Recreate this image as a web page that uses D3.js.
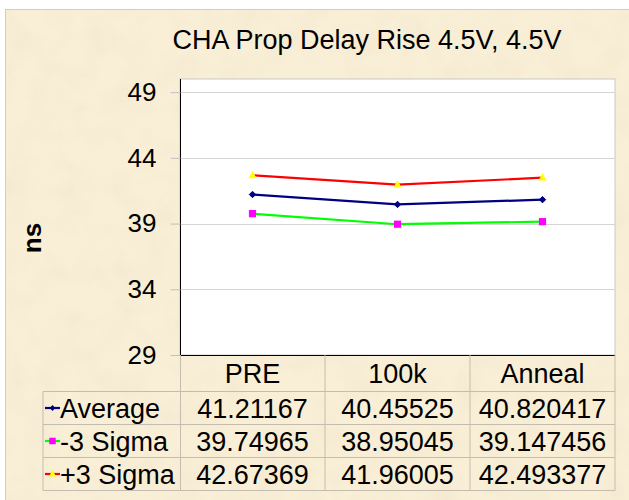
<!DOCTYPE html>
<html>
<head>
<meta charset="utf-8">
<script src="https://cdn.jsdelivr.net/npm/d3@7"></script>
<style>
    html, body { margin: 0; padding: 0; background: #fff; }
    svg { display: block; font-family: "Liberation Sans", Arial, sans-serif; }
</style>
</head>
<body>
<div class="delay-chart"></div>
<script>
const categories = ["PRE", "100k", "Anneal"];
const average = [41.21167, 40.45525, 40.820417];
const minus3Sigma = [39.74965, 38.95045, 39.147456];
const plus3Sigma = [42.67369, 41.96005, 42.493377];
const yTicks = [29, 34, 39, 44, 49];

const width = 629, height = 500;
const plot = {left: 180, right: 615, top: 79, bottom: 355};
const rowTop = 391.5, rowH = 33, tableLeft = 43;

const series = [
    {name: "Average", values: average, line: "#000080", fill: "#000080", marker: "diamond"},
    {name: "-3 Sigma", values: minus3Sigma, line: "#00FF00", fill: "#FF00FF", marker: "square"},
    {name: "+3 Sigma", values: plus3Sigma, line: "#FF0000", fill: "#FFFF00", marker: "triangle"}
];

const x = d3.scaleBand()
    .domain(categories)
    .range([plot.left, plot.right]);

const y = d3.scaleLinear()
    .domain([29, 50])
    .range([plot.bottom, plot.top]);

const svg = d3.select(".delay-chart").append("svg")
    .attr("width", width)
    .attr("height", height);

// parchment texture
const defs = svg.append("defs");
const filter = defs.append("filter").attr("id", "paper")
    .attr("x", 0).attr("y", 0).attr("width", "100%").attr("height", "100%");
filter.append("feTurbulence")
    .attr("type", "fractalNoise")
    .attr("baseFrequency", 0.035)
    .attr("numOctaves", 4)
    .attr("seed", 3);
filter.append("feColorMatrix")
    .attr("type", "matrix")
    .attr("values", "0 0 0 0 0.80  0 0 0 0 0.70  0 0 0 0 0.50  1.2 0 0 0 -0.45");
filter.append("feComposite").attr("in2", "SourceGraphic").attr("operator", "in");

svg.append("rect")
    .attr("x", 5.5).attr("y", 9.5)
    .attr("width", width).attr("height", height)
    .attr("fill", "#F9EFD7")
    .attr("stroke", "#D9CCB0");
svg.append("rect")
    .attr("x", 6).attr("y", 10)
    .attr("width", width).attr("height", height)
    .attr("fill", "#F9EFD7")
    .attr("filter", "url(#paper)")
    .attr("opacity", 0.35);

svg.append("text")
    .attr("x", 367)
    .attr("y", 49)
    .attr("text-anchor", "middle")
    .attr("font-size", 27)
    .attr("fill", "#000")
    .text("CHA Prop Delay Rise 4.5V, 4.5V");

// plot area
svg.append("rect")
    .attr("x", plot.left).attr("y", plot.top)
    .attr("width", plot.right - plot.left)
    .attr("height", plot.bottom - plot.top)
    .attr("fill", "#fff")
    .attr("stroke", "#C8C8C8");

svg.append("g")
    .selectAll("line")
    .data(yTicks.slice(1))
    .join("line")
    .attr("x1", plot.left).attr("x2", plot.right)
    .attr("y1", d => Math.round(y(d)) + 0.5)
    .attr("y2", d => Math.round(y(d)) + 0.5)
    .attr("stroke", "#D4D4D4");

const yAxis = g => g
    .attr("transform", `translate(${plot.left + 0.5},0)`)
    .call(d3.axisLeft(y).tickValues(yTicks).tickSize(10).tickPadding(14))
    .call(g => g.select(".domain").attr("stroke", "#000").attr("d", `M0,${plot.top}V${plot.bottom}`))
    .call(g => g.selectAll(".tick line").attr("stroke", "#C0C0C0"))
    .call(g => g.selectAll(".tick text")
        .attr("font-size", 26)
        .attr("font-family", "Liberation Sans, Arial, sans-serif")
        .attr("fill", "#000"));

svg.append("g").call(yAxis);

svg.append("line")
    .attr("x1", plot.left).attr("x2", plot.right)
    .attr("y1", plot.bottom + 0.5).attr("y2", plot.bottom + 0.5)
    .attr("stroke", "#000");

svg.append("text")
    .attr("transform", `translate(41,238) rotate(-90)`)
    .attr("text-anchor", "middle")
    .attr("font-size", 26)
    .attr("font-weight", "bold")
    .text("ns");

const line = d3.line()
    .x((d, i) => x(categories[i]) + x.bandwidth() / 2)
    .y(d => y(d));

const markerPath = (type, cx, cy, s) => {
    if (type === "square") return `M${cx - s},${cy - s}h${2 * s}v${2 * s}h${-2 * s}Z`;
    if (type === "triangle") return `M${cx},${cy - s * 1.2}L${cx + s * 1.1},${cy + s * 0.8}L${cx - s * 1.1},${cy + s * 0.8}Z`;
    return `M${cx},${cy - s}L${cx + s},${cy}L${cx},${cy + s}L${cx - s},${cy}Z`;
};

const markerSize = {diamond: 3.2, square: 3.6, triangle: 3.6};

series.forEach(s => {
    svg.append("path")
        .datum(s.values)
        .attr("fill", "none")
        .attr("stroke", s.line)
        .attr("stroke-width", 2.2)
        .attr("stroke-linejoin", "round")
        .attr("d", line);

    svg.append("g")
        .selectAll("path")
        .data(s.values)
        .join("path")
        .attr("fill", s.fill)
        .attr("stroke", s.marker === "diamond" ? s.fill : "none")
        .attr("d", (d, i) => markerPath(s.marker, x(categories[i]) + x.bandwidth() / 2, y(d), markerSize[s.marker]));
});

// data table
const table = svg.append("g");
const gridColor = "#C4BCAE";

[0, 1, 2, 3].forEach(r => {
    table.append("line")
        .attr("x1", tableLeft).attr("x2", plot.right)
        .attr("y1", rowTop + r * rowH).attr("y2", rowTop + r * rowH)
        .attr("stroke", gridColor);
});

table.append("line")
    .attr("x1", tableLeft).attr("x2", tableLeft)
    .attr("y1", rowTop).attr("y2", rowTop + 3 * rowH)
    .attr("stroke", gridColor);

x.domain().forEach(c => {
    table.append("line")
        .attr("x1", x(c) + x.bandwidth()).attr("x2", x(c) + x.bandwidth())
        .attr("y1", plot.bottom).attr("y2", rowTop + 3 * rowH)
        .attr("stroke", gridColor);
});

table.append("line")
    .attr("x1", plot.left + 0.5).attr("x2", plot.left + 0.5)
    .attr("y1", plot.bottom).attr("y2", rowTop + 3 * rowH)
    .attr("stroke", gridColor);

table.selectAll(".cat")
    .data(categories)
    .join("text")
    .attr("class", "cat")
    .attr("x", d => x(d) + x.bandwidth() / 2)
    .attr("y", 383)
    .attr("text-anchor", "middle")
    .attr("font-size", 27)
    .text(d => d);

series.forEach((s, r) => {
    const cy = rowTop + r * rowH + rowH / 2;

    table.append("line")
        .attr("x1", 45).attr("x2", 60)
        .attr("y1", cy).attr("y2", cy)
        .attr("stroke", s.line)
        .attr("stroke-width", 2.2);

    table.append("path")
        .attr("fill", s.fill)
        .attr("d", markerPath(s.marker, 52.5, cy, markerSize[s.marker] * 0.9));

    table.append("text")
        .attr("x", 60)
        .attr("y", cy + 9.5)
        .attr("font-size", 27)
        .text(s.name);

    table.selectAll(null)
        .data(s.values)
        .join("text")
        .attr("x", (d, i) => x(categories[i]) + x.bandwidth() / 2)
        .attr("y", cy + 9.5)
        .attr("text-anchor", "middle")
        .attr("font-size", 27)
        .text(d => String(d));
});
</script>
</body>
</html>
